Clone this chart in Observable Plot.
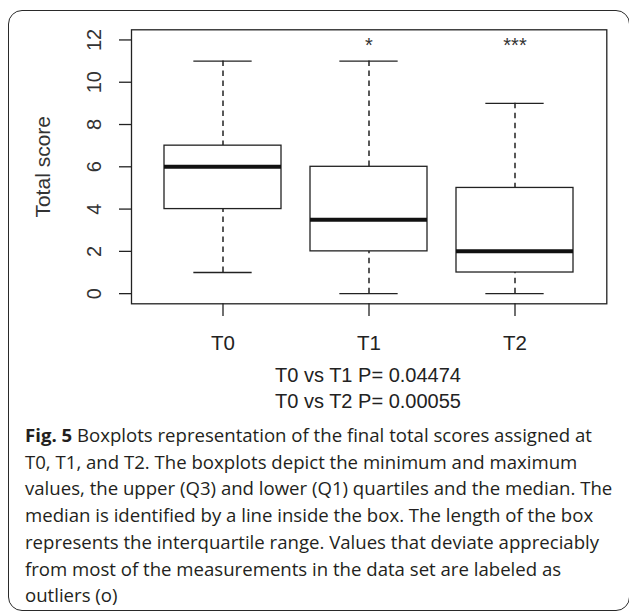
<!DOCTYPE html>
<html>
<head>
<meta charset="utf-8">
<script src="https://cdn.jsdelivr.net/npm/d3@7"></script>
<script src="https://cdn.jsdelivr.net/npm/@observablehq/plot@0.6"></script>
<style>
  html, body { margin: 0; padding: 0; background: #fff; }
  body { width: 629px; height: 613px; position: relative; overflow: hidden; }
  #card { position: absolute; left: 8px; top: 10px; width: 622px; height: 601px; box-sizing: border-box;
          border: 1.6px solid #2a2a2a; border-radius: 14px; }
  #chart { position: absolute; left: 0; top: 0; }
  #plines { position: absolute; left: 168px; width: 400px; top: 363px; text-align: center;
            font-family: "Liberation Sans", Arial, sans-serif; font-size: 20px; line-height: 25.5px; color: #222; }
  #caption { position: absolute; left: 25px; top: 422px; width: 600px; white-space: nowrap;
             font-family: "Open Sans", sans-serif; font-size: 18.6px; line-height: 26.7px; color: #231f20; }
  #caption b { font-weight: 700; }
</style>
</head>
<body>
<div id="card"></div>
<div id="chart"></div>
<div id="plines"></div>
<div id="caption"></div>
<script>
const categories = ["T0", "T1", "T2"];
const mins = [1, 0, 0];
const q1s = [4, 2, 1];
const medians = [6, 3.5, 2];
const q3s = [7, 6, 5];
const maxs = [11, 11, 9];
const signif = ["", "*", "***"];
const signifLevel = 12;
const yTicks = [0, 2, 4, 6, 8, 10, 12];
const yLabel = "Total score";
const pLines = ["T0 vs T1 P= 0.04474", "T0 vs T2 P= 0.00055"];
const captionLines = [
  "Boxplots representation of the final total scores assigned at",
  "T0, T1, and T2. The boxplots depict the minimum and maximum",
  "values, the upper (Q3) and lower (Q1) quartiles and the median. The",
  "median is identified by a line inside the box. The length of the box",
  "represents the interquartile range. Values that deviate appreciably",
  "from most of the measurements in the data set are labeled as",
  "outliers (o)"
];

const data = categories.map((c, i) => ({
  c, min: mins[i], q1: q1s[i], med: medians[i], q3: q3s[i], max: maxs[i], sig: signif[i], lvl: signifLevel
}));

const W = 629, H = 360;
const mL = 131, mR = 22.7, mT = 29.3, mB = H - 303.3;
const innerW = W - mL - mR;
const step = innerW / 3.24;
const bw = step * 0.8;
const capInset = bw / 4;
const ink = "#222";

const plot = Plot.plot({
  width: W, height: H,
  marginLeft: mL, marginRight: mR, marginTop: mT, marginBottom: mB,
  style: { fontFamily: "'Liberation Sans', Arial, sans-serif", fontSize: "20px", background: "transparent", color: ink, overflow: "visible" },
  x: { type: "band", domain: categories, paddingInner: 0.2, paddingOuter: 0.22, align: 0.5, label: null },
  y: { domain: [-0.48, 12.48], label: null },
  marks: [
    Plot.ruleX(data, { x: "c", y1: "max", y2: "q3", stroke: ink, strokeWidth: 1.5, strokeDasharray: "5.5,4.5" }),
    Plot.ruleX(data, { x: "c", y1: "min", y2: "q1", stroke: ink, strokeWidth: 1.5, strokeDasharray: "5.5,4.5" }),
    Plot.tickY(data, { x: "c", y: "max", stroke: ink, strokeWidth: 1.3, insetLeft: capInset, insetRight: capInset }),
    Plot.tickY(data, { x: "c", y: "min", stroke: ink, strokeWidth: 1.3, insetLeft: capInset, insetRight: capInset }),
    Plot.barY(data, { x: "c", y1: "q1", y2: "q3", fill: "white", stroke: ink, strokeWidth: 1.3 }),
    Plot.tickY(data, { x: "c", y: "med", stroke: "#111", strokeWidth: 4 }),
    Plot.text(data, { x: "c", y: "lvl", text: "sig", fontSize: 20, dy: 5.5, fill: "#333" }),
    Plot.frame({ stroke: ink, strokeWidth: 1.3 }),
    Plot.axisX({ tickSize: 12.7, tickPadding: 19, fontSize: 20.5, label: null, stroke: ink, strokeWidth: 1.3 }),
    Plot.axisY({ ticks: yTicks, tickSize: 12, tickFormat: () => "", label: null, stroke: ink, strokeWidth: 1.3 }),
    Plot.text(yTicks, { y: d => d, frameAnchor: "left", textAnchor: "middle", lineAnchor: "middle", text: d => String(d), rotate: -90, dx: -37, fontSize: 20, fill: "#333" }),
    Plot.text([yLabel], { frameAnchor: "left", textAnchor: "middle", lineAnchor: "middle", text: d => d, rotate: -90, dx: -88, fontSize: 21, fill: "#333" })
  ]
});
document.getElementById("chart").appendChild(plot);

document.getElementById("plines").innerHTML = pLines.join("<br>");
document.getElementById("caption").innerHTML =
  "<b>Fig. 5</b> " + captionLines.join("<br>");
</script>
</body>
</html>
